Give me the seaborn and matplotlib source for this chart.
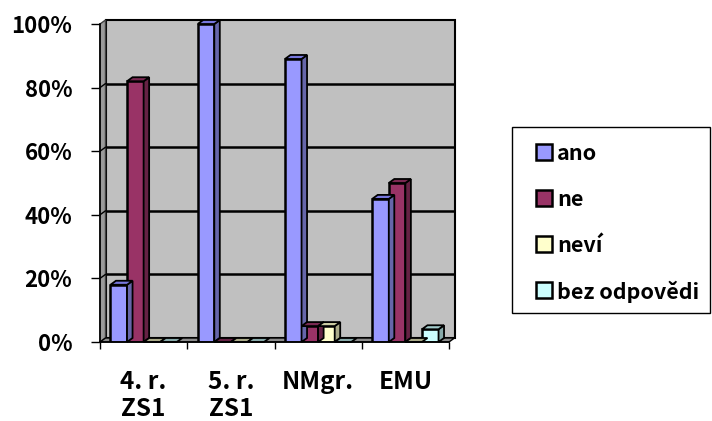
import numpy as np
import pandas as pd
import matplotlib
matplotlib.use("Agg")
import matplotlib.pyplot as plt
import seaborn as sns
from matplotlib.patches import Polygon, Rectangle
from matplotlib.ticker import FixedLocator

# Survey answers (%) per group
categories = ["4. r.\nZS1", "5. r.\nZS1", "NMgr.", "EMU"]
series = ["ano", "ne", "neví", "bez odpovědi"]
ano = [18, 100, 89, 45]
ne = [82, 0, 5, 50]
nevi = [0, 0, 5, 0]
bez = [0, 0, 0, 4]
y_ticks = [0, 20, 40, 60, 80, 100]
y_labels = ["0%", "20%", "40%", "60%", "80%", "100%"]

front_colors = ["#9999FF", "#993366", "#FFFFCC", "#CCFFFF"]
side_colors = ["#6666AA", "#662244", "#AAAA88", "#88AAAA"]
top_colors = ["#7777DD", "#7A2952", "#CCCCA3", "#A3CCCC"]

values = {"ano": ano, "ne": ne, "neví": nevi, "bez odpovědi": bez}
rows = []
for s in series:
    for c, v in zip(categories, values[s]):
        rows.append({"skupina": c, "odpověď": s, "podíl": v})
df = pd.DataFrame(rows)

sns.set_theme(style="white")
FONT = ["Noto Sans CJK SC", "DejaVu Sans"]
plt.rcParams["font.family"] = FONT
plt.rcParams["font.weight"] = "bold"

W, H = 712, 421
fig = plt.figure(figsize=(W / 100, H / 100), dpi=100)
ax_left, ax_right, ax_top, ax_bottom = 100, 449, 24, 342
ax = fig.add_axes([ax_left / W, 1 - ax_bottom / H,
                   (ax_right - ax_left) / W, (ax_bottom - ax_top) / H])
ax.set_xlim(-0.5, 3.5)
ax.set_ylim(0, 100)

# depth of the pseudo-3D extrusion, expressed in data units
dx = 5.5 / ((ax_right - ax_left) / 4)
dy = 4 / ((ax_bottom - ax_top) / 100)

# back wall, side wall and floor
ax.add_patch(Rectangle((-0.5 + dx, dy), 4, 100, facecolor="#C0C0C0",
                       edgecolor="black", linewidth=1.5, zorder=0, clip_on=False))
ax.add_patch(Polygon([(-0.5, 0), (-0.5 + dx, dy), (-0.5 + dx, 100 + dy), (-0.5, 100)],
                     closed=True, facecolor="#9A9A9A", edgecolor="#404040",
                     linewidth=1.0, zorder=0.5, clip_on=False))
for yv in y_ticks[1:-1]:
    ax.plot([-0.5 + dx, 3.5 + dx], [yv + dy, yv + dy], color="black", lw=1.8,
            zorder=0.6, clip_on=False, solid_capstyle="butt")
    ax.plot([-0.5, -0.5 + dx], [yv, yv + dy], color="black", lw=1.0,
            zorder=0.6, clip_on=False)
ax.add_patch(Polygon([(-0.5, 0), (3.5, 0), (3.5 + dx, dy), (-0.5 + dx, dy)],
                     closed=True, facecolor="#8C8C8C", edgecolor="black",
                     linewidth=1.0, zorder=0.7, clip_on=False))

sns.barplot(data=df, x="skupina", y="podíl", hue="odpověď", order=categories,
            hue_order=series, palette=front_colors, saturation=1, width=0.76,
            gap=0, edgecolor="black", linewidth=1.8, legend=False, ax=ax, zorder=3)

# top and side faces for each bar
bars = [p for p in ax.patches if isinstance(p, Rectangle) and p.get_zorder() == 3]
for i, bar in enumerate(bars):
    si = i // len(categories)
    x0 = bar.get_x()
    w = bar.get_width()
    h = bar.get_height()
    x1 = x0 + w
    top = Polygon([(x0, h), (x1, h), (x1 + dx, h + dy), (x0 + dx, h + dy)],
                  closed=True, facecolor=top_colors[si] if h > 0 else side_colors[si],
                  edgecolor="black", linewidth=1.3, zorder=3.1, clip_on=False)
    ax.add_patch(top)
    if h > 0:
        side = Polygon([(x1, 0), (x1 + dx, dy), (x1 + dx, h + dy), (x1, h)],
                       closed=True, facecolor=side_colors[si], edgecolor="black",
                       linewidth=1.3, zorder=3.05, clip_on=False)
        ax.add_patch(side)

for s in ["top", "right"]:
    ax.spines[s].set_visible(False)
for s in ["left", "bottom"]:
    ax.spines[s].set_color("black")
    ax.spines[s].set_linewidth(1.2)
    ax.spines[s].set_zorder(4)

ax.set_yticks(y_ticks)
ax.set_yticklabels(y_labels, fontweight="bold", fontsize=16, color="black")
ax.tick_params(axis="y", direction="out", length=6.5, width=1, color="black",
               pad=13.5, left=True)
ax.set_xticks(range(len(categories)))
ax.set_xticklabels(categories, linespacing=1.18, fontweight="bold",
                   fontsize=17.5, color="black")
ax.tick_params(axis="x", which="major", length=0, pad=20)
ax.xaxis.set_minor_locator(FixedLocator(np.arange(-0.5, 4.0, 1.0)))
ax.tick_params(axis="x", which="minor", direction="out", length=5, width=1,
               color="black", bottom=True)
ax.set_xlabel("")
ax.set_ylabel("")

# legend box, drawn in pixel coordinates on a full-figure overlay
lax = fig.add_axes([0, 0, 1, 1], zorder=10)
lax.set_xlim(0, W)
lax.set_ylim(H, 0)
lax.axis("off")
lax.add_patch(Rectangle((512, 127), 198, 186, facecolor="white",
                        edgecolor="black", linewidth=1.0))
for k, (name, col) in enumerate(zip(series, front_colors)):
    yc = 152 + k * 46
    lax.add_patch(Rectangle((536, yc - 8), 16, 16, facecolor=col,
                            edgecolor="black", linewidth=1.8))
    lax.text(557, yc, name, fontsize=15.5, fontweight="bold", color="black",
             va="center_baseline", ha="left")

fig.savefig("out.png", dpi=100)
